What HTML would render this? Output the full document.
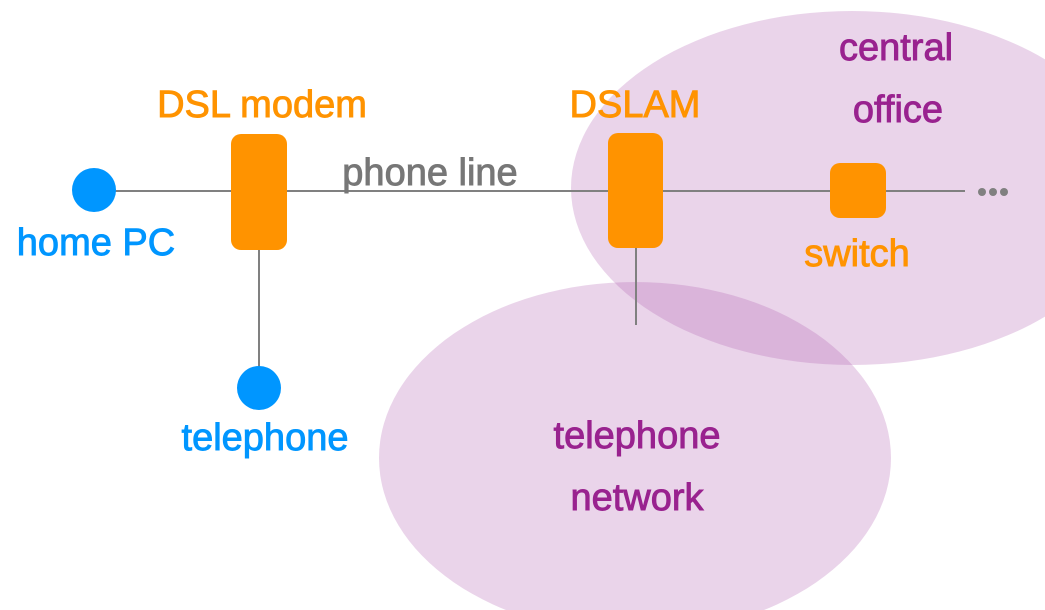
<!DOCTYPE html>
<html><head><meta charset="utf-8"><style>
html,body{margin:0;padding:0;background:#fff;}
svg{display:block;}
text{font-family:"Liberation Sans","DejaVu Sans",sans-serif;font-size:38px;stroke-width:0.9px;}
</style></head><body>
<svg width="1045" height="610" viewBox="0 0 1045 610" xmlns="http://www.w3.org/2000/svg">
<ellipse cx="852" cy="188" rx="281" ry="177" fill="#b060b0" fill-opacity="0.27"/>
<ellipse cx="635" cy="458" rx="256" ry="176" fill="#b060b0" fill-opacity="0.27"/>
<g stroke="#808080" stroke-width="2" fill="none">
<line x1="95" y1="191" x2="965" y2="191"/>
<line x1="259" y1="250" x2="259" y2="388"/>
<line x1="636" y1="248" x2="636" y2="325"/>
</g>
<circle cx="94" cy="190" r="22" fill="#0096ff"/>
<circle cx="259" cy="388" r="22" fill="#0096ff"/>
<rect x="231" y="134" width="56" height="116" rx="10" fill="#ff9300"/>
<rect x="608" y="133" width="55" height="115" rx="10" fill="#ff9300"/>
<rect x="830" y="163" width="56" height="55" rx="10" fill="#ff9300"/>
<g fill="#808080"><circle cx="982" cy="192" r="4"/><circle cx="993" cy="192" r="4"/><circle cx="1004" cy="192" r="4"/></g>
<g text-anchor="middle">
<text x="262" y="117" fill="#ff9300" stroke="#ff9300">DSL modem</text>
<text x="635" y="117" fill="#ff9300" stroke="#ff9300">DSLAM</text>
<text x="430" y="185" fill="#777" stroke="#777">phone line</text>
<text x="96" y="255" fill="#0096ff" stroke="#0096ff">home PC</text>
<text x="265" y="450" fill="#0096ff" stroke="#0096ff">telephone</text>
<text x="857" y="266" fill="#ff9300" stroke="#ff9300">switch</text>
<text x="896" y="60" fill="#99228f" stroke="#99228f">central</text>
<text x="898" y="122" fill="#99228f" stroke="#99228f">office</text>
<text x="637" y="448" fill="#99228f" stroke="#99228f">telephone</text>
<text x="637" y="510" fill="#99228f" stroke="#99228f">network</text>
</g>
</svg>
</body></html>
